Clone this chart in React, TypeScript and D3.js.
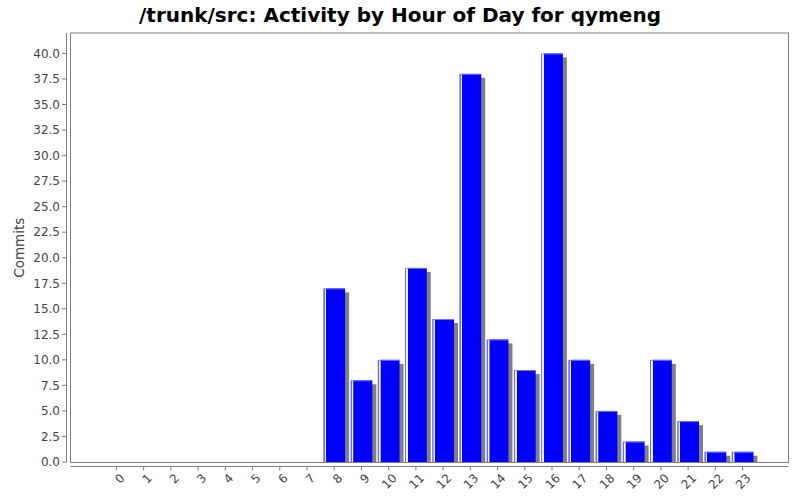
import React from "react";
import * as d3 from "d3";

const hours = ["0","1","2","3","4","5","6","7","8","9","10","11","12","13","14","15","16","17","18","19","20","21","22","23"];
const commits = [0,0,0,0,0,0,0,0,17,8,10,19,14,38,12,9,40,10,5,2,10,4,1,1];
const yTicks = [0,2.5,5,7.5,10,12.5,15,17.5,20,22.5,25,27.5,30,32.5,35,37.5,40];
const title = "/trunk/src: Activity by Hour of Day for qymeng";
const yLabel = "Commits";

const W = 800, H = 500;
const left = 70.5, right = 788.5, top = 33, bottom = 462.5;

export default function App() {
  const pw = right - left;
  const margin = 0.045 * pw;
  const x = d3.scaleBand<string>().domain(hours).range([left + margin, right - margin]).paddingInner(0.2).paddingOuter(0.1);
  const y = d3.scaleLinear().domain([0, 42]).range([bottom - 0.5, top]);
  const font = "'DejaVu Sans', sans-serif";
  const bw = x.bandwidth();
  return (
    <div style={{ position: "absolute", left: 0, top: 0, width: W, height: H }}>
      <svg width={W} height={H} style={{ display: "block" }}>
        <defs>
          <linearGradient id="barg" x1="0" x2="1" y1="0" y2="0">
            <stop offset="0" stopColor="#5a5aff" />
            <stop offset="0.055" stopColor="#7070ff" />
            <stop offset="0.065" stopColor="#ffffff" />
            <stop offset="0.12" stopColor="#e8e8ff" />
            <stop offset="0.14" stopColor="#0000ff" />
            <stop offset="1" stopColor="#0000ff" />
          </linearGradient>
          <clipPath id="pc">
            <rect x={left} y={top} width={pw} height={bottom - top} />
          </clipPath>
        </defs>
        <rect width={W} height={H} fill="#ffffff" />
        <text x={W / 2} y={22} textAnchor="middle" fontFamily={font} fontWeight="bold" fontSize={20} fill="#000">{title}</text>
        <rect x={left} y={top} width={pw} height={bottom - top} fill="#ffffff" stroke="#808080" strokeWidth={1} />
        <g clipPath="url(#pc)">
          {hours.map((h, i) => {
            const v = commits[i];
            if (v <= 0) return null;
            const x0 = x(h)!;
            const yt = y(v);
            const yb = y(0);
            return (
              <g key={h}>
                <rect x={x0 + 4} y={yt + 4} width={bw} height={yb - yt} fill="#808080" />
                <rect x={x0} y={yt} width={bw} height={yb - yt} fill="url(#barg)" />
                <line x1={x0 + 1.5} x2={x0 + bw} y1={yt + 0.5} y2={yt + 0.5} stroke="#7070ff" strokeWidth={1} />
              </g>
            );
          })}
        </g>
        {/* Y axis */}
        <line x1={66.5} x2={66.5} y1={top} y2={bottom} stroke="#808080" />
        {yTicks.map((t) => (
          <g key={t}>
            <line x1={62} x2={66.5} y1={y(t)} y2={y(t)} stroke="#808080" />
            <text x={60} y={y(t)} dy="0.36em" textAnchor="end" fontFamily={font} fontSize={12} fill="#444">{t.toFixed(1)}</text>
          </g>
        ))}
        <text transform={`translate(24,${(top + bottom) / 2}) rotate(-90)`} textAnchor="middle" fontFamily={font} fontSize={13.5} fill="#444">{yLabel}</text>
        {/* X axis */}
        <line x1={left} x2={right} y1={466.5} y2={466.5} stroke="#808080" />
        {hours.map((h) => {
          const cx = x(h)! + bw / 2;
          return (
            <g key={h}>
              <line x1={cx} x2={cx} y1={466.5} y2={470.5} stroke="#808080" />
              <text transform={`translate(${cx + 3},${473}) rotate(-45)`} textAnchor="end" dy="0.7em" fontFamily={font} fontSize={12} fill="#444">{h}</text>
            </g>
          );
        })}
      </svg>
    </div>
  );
}
